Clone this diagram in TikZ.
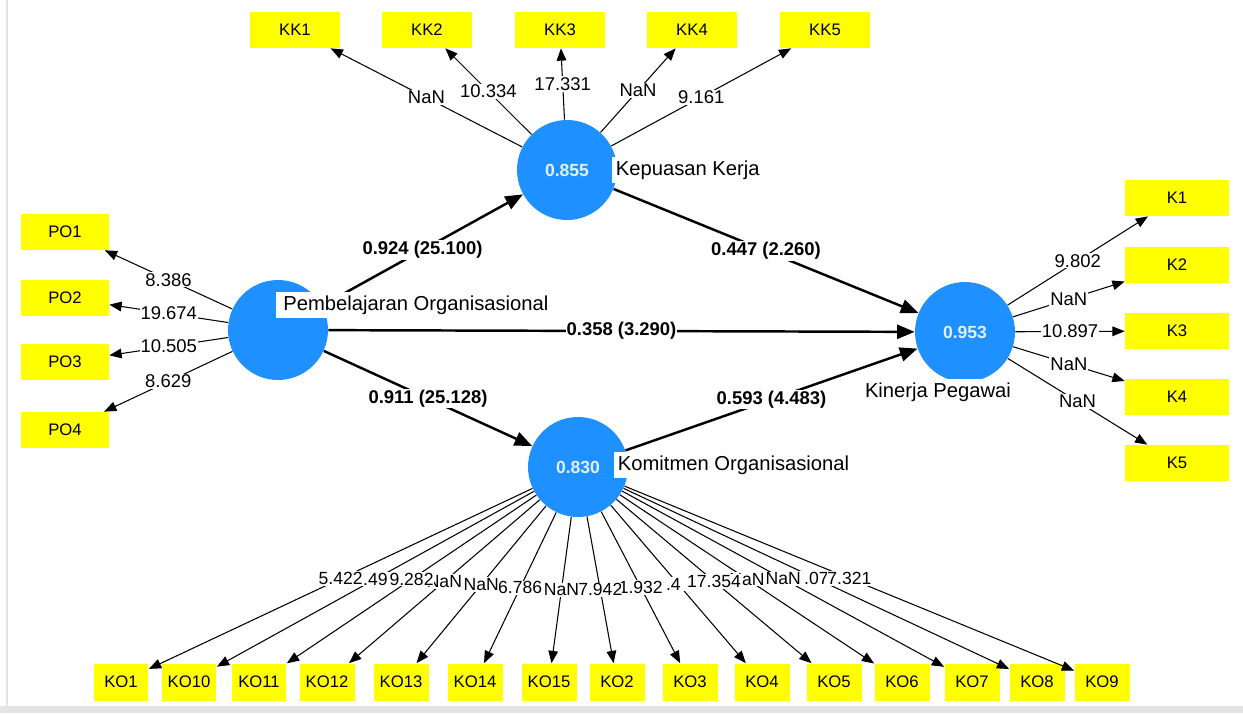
\documentclass[tikz,border=0pt]{standalone}
\usepackage{fontspec}
\setmainfont{Liberation Sans}
\usetikzlibrary{arrows.meta}
\definecolor{lvblue}{RGB}{30,144,255}
\definecolor{lvtext}{RGB}{225,240,255}
\definecolor{indyellow}{RGB}{255,255,0}
\definecolor{framegray}{RGB}{228,228,228}

\begin{document}
\begin{tikzpicture}[x=0.02cm,y=-0.02cm,
  latent/.style={circle,fill=lvblue,minimum size=2cm,inner sep=0pt,
    font=\fontsize{10}{12}\selectfont\bfseries,text=lvtext},
  indic/.style={fill=indyellow,minimum width=1.8cm,minimum height=0.72cm,
    inner sep=0pt,font=\fontsize{9.5}{11}\selectfont},
  kobox/.style={indic,minimum width=1.1cm,minimum height=0.74cm},
  lvname/.style={fill=white,inner sep=2pt,font=\fontsize{11.5}{13}\selectfont},
  loading/.style={-{Triangle[length=7pt,width=5.5pt]},line width=0.6pt},
  inner path/.style={-{Triangle[length=10pt,width=8pt]},line width=1.4pt},
  wlab/.style={midway,fill=white,inner sep=0.6pt,font=\fontsize{10.5}{12}\selectfont},
  kolab/.style={wlab,inner xsep=0pt,font=\fontsize{10}{12}\selectfont},
  blab/.style={wlab,font=\fontsize{10.5}{12}\selectfont\bfseries}]
\useasboundingbox (0,0) rectangle (1243,713);
\fill[framegray] (0,706) rectangle (1243,713);
\draw[framegray,line width=0.6pt] (7,0) -- (7,706);

% latent variables
\node[latent] (PO) at (278,330) {};
\node[latent] (KK) at (567,170) {0.855};
\node[latent] (KO) at (578,467) {0.830};
\node[latent] (KP) at (965,332) {0.953};

% indicators
\foreach \i/\x in {1/295,2/427,3/560,4/692,5/825}
  \node[indic] (kk\i) at (\x,30) {KK\i};
\foreach \i/\y in {1/232,2/298,3/362,4/430}
  \node[indic,minimum width=1.76cm] (po\i) at (65,\y) {PO\i};
\foreach \i/\y in {1/198,2/265,3/331,4/397,5/463}
  \node[indic,minimum width=2.08cm] (k\i) at (1177,\y) {K\i};
\foreach \n/\x in {1/121,10/189,11/259,12/327,13/401,14/475,15/549,2/617,
    3/690,4/762,5/834,6/902,7/972,8/1037,9/1102}
  \node[kobox] (ko\n) at (\x,682) {KO\n};

% outer model
\foreach \i/\v in {1/NaN,2/10.334,3/17.331,4/NaN,5/9.161}
  \draw[loading] (KK) -- (kk\i) node[wlab] {\v};
\foreach \i/\v in {1/8.386,2/19.674,3/10.505,4/8.629}
  \draw[loading] (PO) -- (po\i) node[wlab] {\v};
\foreach \i/\v in {1/9.802,2/NaN,3/10.897,4/NaN,5/NaN}
  \draw[loading] (KP) -- (k\i) node[wlab] {\v};
\foreach \n in {1,10,11,12,13,14,15,2,3,4,5,6,7,8,9}
  \draw[loading] (KO) -- (ko\n);
% labels that end up partly covered go first
\foreach \n/\v in {10/{\phantom{0}.49\phantom{0}},12/NaN,14/6.786,
    4/{\phantom{0}.4\phantom{00}},6/NaN,8/{\phantom{0}.07\phantom{0}}}
  \path (KO) -- (ko\n) node[kolab] {\v};
\foreach \n/\v in {1/5.422,11/9.282,13/NaN,15/NaN,3/1.932,2/7.942,
    5/17.354,7/NaN,9/7.321}
  \path (KO) -- (ko\n) node[kolab] {\v};

% inner model
\draw[inner path] (PO) -- (KK) node[blab] {0.924 (25.100)};
\draw[inner path] (PO) -- (KO) node[blab] {0.911 (25.128)};
\draw[inner path] (PO) -- (KP) node[blab] {0.358 (3.290)};
\draw[inner path] (KK) -- (KP) node[blab] {0.447 (2.260)};
\draw[inner path] (KO) -- (KP) node[blab] {0.593 (4.483)};

% names
\node[lvname,anchor=west,inner xsep=4pt] (POname) at (276,305) {Pembelajaran Organisasional};
\node[lvname,anchor=west] (KKname) at (612,170) {Kepuasan Kerja};
\node[lvname,anchor=west] (KOname) at (614,465) {Komitmen Organisasional};
\node[lvname] (KPname) at (938,392) {Kinerja Pegawai};
\end{tikzpicture}
\end{document}
